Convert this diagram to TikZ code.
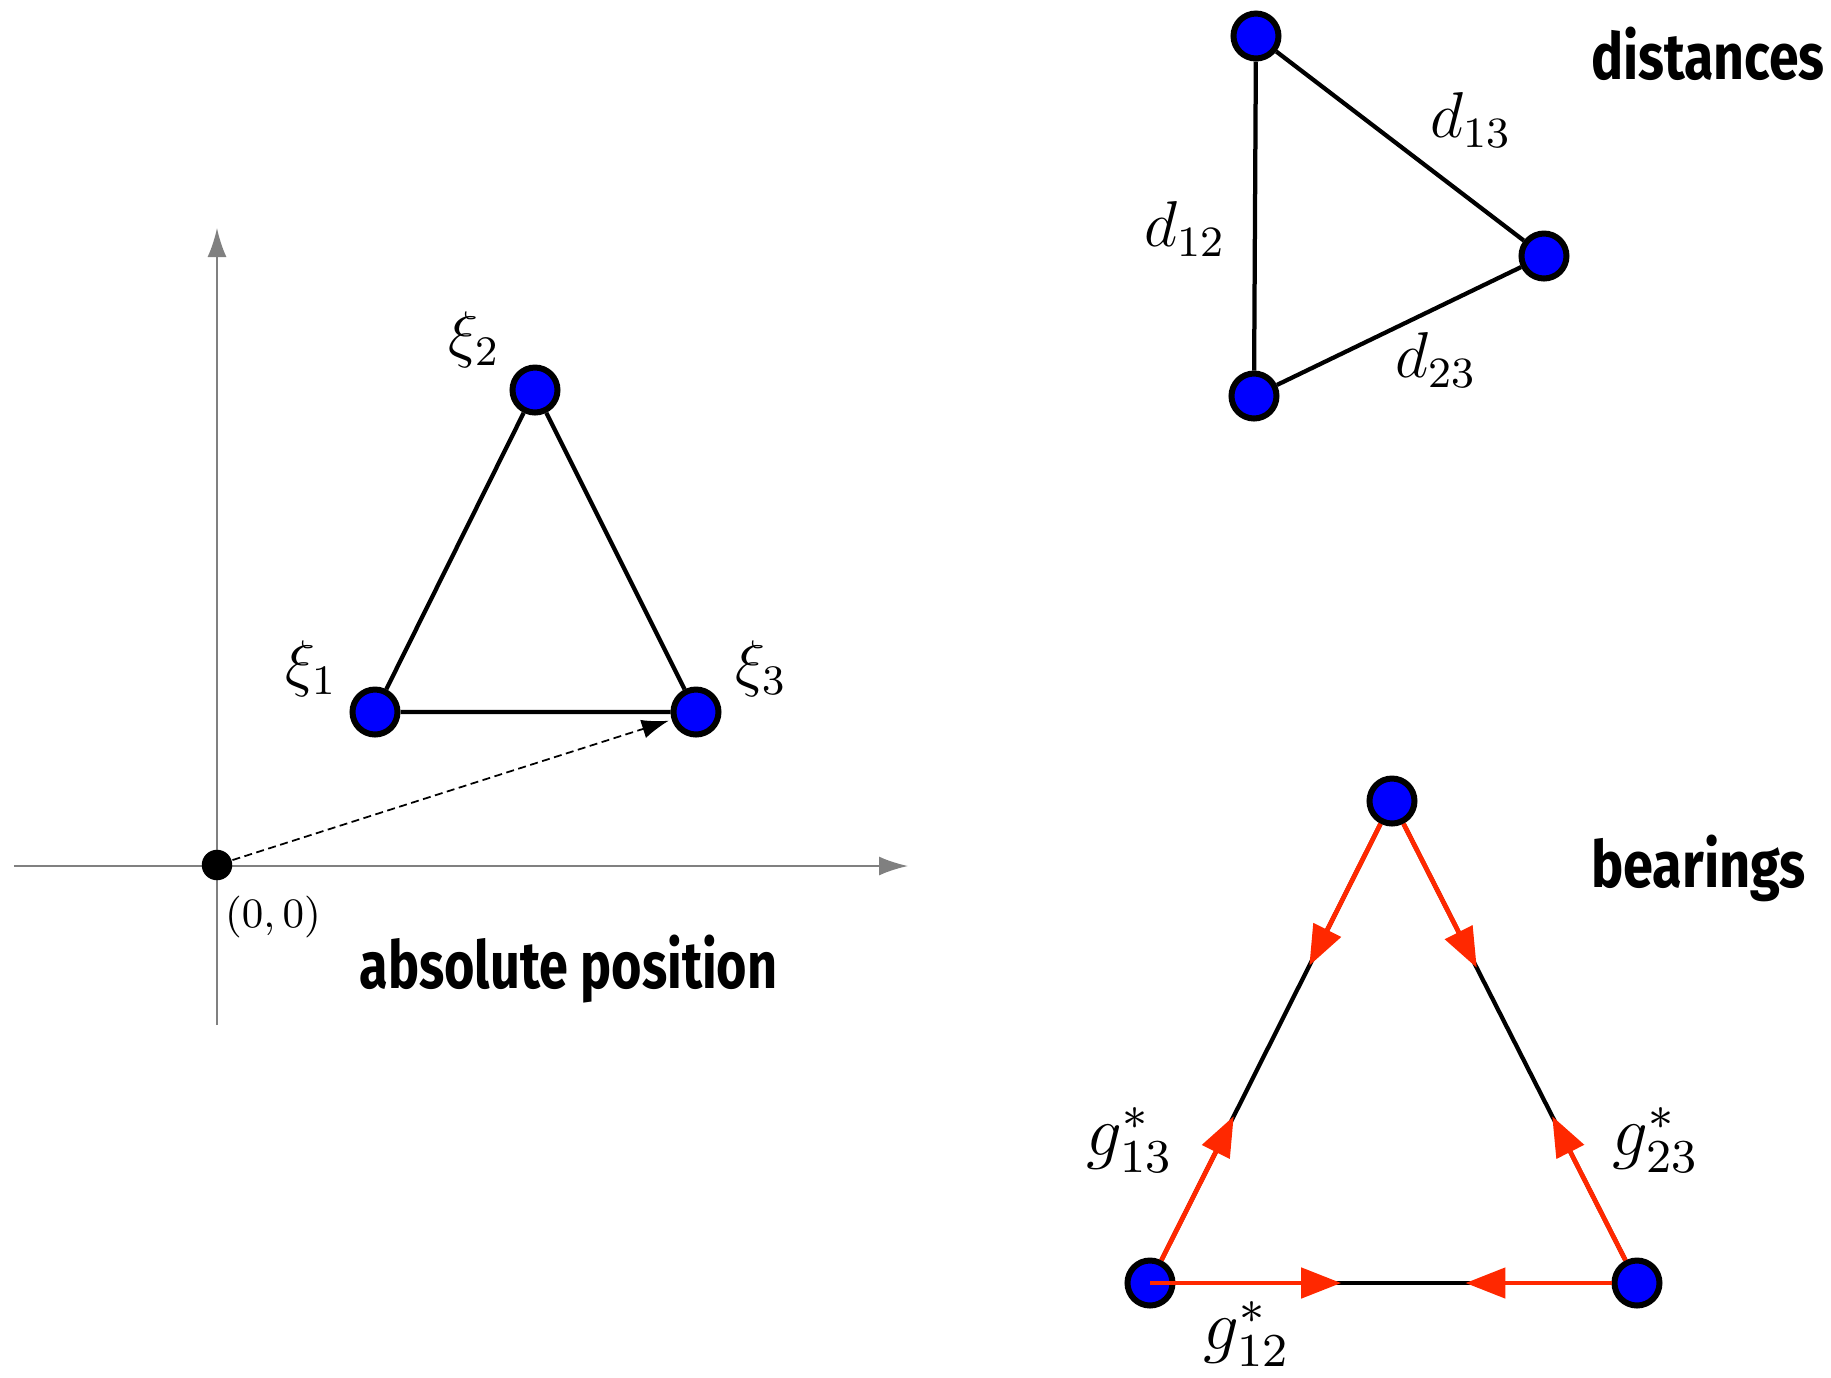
\documentclass[tikz,border=0pt]{standalone}
\usepackage{fontspec}
\usepackage{graphicx}
\newfontfamily\titlefont{Fira Sans}
\usetikzlibrary{arrows.meta}
\definecolor{nodeblue}{RGB}{0,0,255}
\definecolor{bearred}{RGB}{255,40,0}
\definecolor{axisgray}{RGB}{128,128,128}
\begin{document}
\begin{tikzpicture}[x=0.2pt,y=-0.2pt,
  vtx/.style={circle,draw=black,fill=nodeblue,line width=1.2pt,minimum size=9pt,inner sep=0pt},
  edge/.style={line width=0.85pt,black},
  axis/.style={axisgray,line width=0.4pt,-{Latex[length=5.8pt,width=3.8pt]}},
  lbl/.style={inner sep=0pt,font=\fontsize{12}{14}\selectfont},
  ttl/.style={inner sep=0pt,anchor=base west},
  bear/.style={bearred,line width=0.95pt,-{Triangle[length=8pt,width=6pt]}}]
\useasboundingbox (0,0) rectangle (1831,1377);

% ---------- absolute position ----------
\coordinate (xs) at (14,866);
\coordinate (xe) at (908,866);
\coordinate (ys) at (217,1025);
\coordinate (ye) at (217,228);
\draw[axis] (xs) -- (xe);
\draw[axis] (ys) -- (ye);
\node[circle,fill=black,minimum size=6.1pt,inner sep=0pt] (O) at (217,865) {};
\node[vtx] (X1) at (375,712) {};
\node[vtx] (X2) at (535,390) {};
\node[vtx] (X3) at (696,712) {};
\draw[edge] (X1) -- (X2) -- (X3) -- (X1);
\draw[black,line width=0.35pt,dash pattern=on 1.6pt off 0.9pt,-{Latex[length=5.4pt,width=3.8pt]},shorten >=0.6pt] (O) -- (X3);
\node[lbl] (l1) at (311,669) {\scalebox{1.05}{$\xi_1$}};
\node[lbl] (l2) at (474,340) {\scalebox{1.05}{$\xi_2$}};
\node[lbl] (l3) at (761,669) {\scalebox{1.05}{$\xi_3$}};
\node[inner sep=0pt,font=\fontsize{9}{11}\selectfont] (l0) at (273,917) {\scalebox{0.93}{$(0,0)$}};
\node[ttl] (tabs) at (358.5,988) {\resizebox{83.6pt}{10.7pt}{\titlefont\bfseries absolute position}};

% ---------- distances ----------
\node[vtx] (A) at (1256,36) {};
\node[vtx] (B) at (1544,256) {};
\node[vtx] (C) at (1254,396) {};
\draw[edge] (A) -- (C);
\draw[edge] (A) -- (B);
\draw[edge] (C) -- (B);
\node[lbl] (d12) at (1185,229) {\scalebox{1.08}{$d_{12}$}};
\node[lbl] (d13) at (1471,120) {\scalebox{1.08}{$d_{13}$}};
\node[lbl] (d23) at (1436,360) {\scalebox{1.08}{$d_{23}$}};
\node[ttl] (tdist) at (1590,79.4) {\resizebox{46.7pt}{10.5pt}{\titlefont\bfseries distances}};

% ---------- bearings ----------
\node[vtx] (T) at (1392,801) {};
\node[vtx] (L) at (1150,1283) {};
\node[vtx] (R) at (1637,1283) {};
\draw[edge] (T) -- (L);
\draw[edge] (T) -- (R);
\draw[edge] (L) -- (R);
\path (T) -- (L) coordinate[pos=0.325] (tl) coordinate[pos=0.67] (lt);
\path (T) -- (R) coordinate[pos=0.33] (tr) coordinate[pos=0.67] (rt);
\path (L) -- (R) coordinate[pos=0.38] (lr) coordinate[pos=0.665] (rl);
\draw[bear] (T) -- (tl);
\draw[bear] (T) -- (tr);
\draw[bear] (L) -- (lt);
\draw[bear] (R) -- (rt);
\draw[bear] (L.center) -- (lr);
\draw[bear] (R) -- (rl);
\node[lbl] (g13) at (1130,1140) {\scalebox{1.18}{$g^*_{13}$}};
\node[lbl] (g23) at (1656,1140) {\scalebox{1.18}{$g^*_{23}$}};
\node[lbl] (g12) at (1247,1334) {\scalebox{1.18}{$g^*_{12}$}};
\node[ttl] (tbear) at (1590,887.5) {\resizebox{43pt}{10.5pt}{\titlefont\bfseries bearings}};
\end{tikzpicture}
\end{document}
